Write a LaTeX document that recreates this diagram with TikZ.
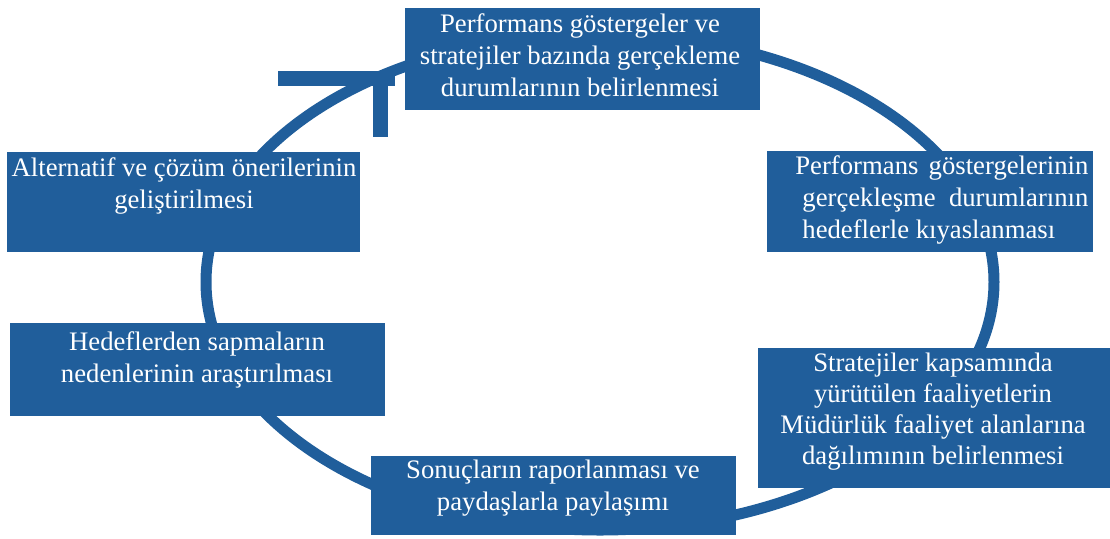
\documentclass[tikz,border=0pt]{standalone}
\usepackage{fontspec}
\setmainfont{Liberation Serif}
\usepackage{tikz}
\usetikzlibrary{positioning}
\definecolor{cycleblue}{RGB}{32,94,155}
\tikzset{%
  font=\fontsize{13.35}{16}\selectfont,
  stage box/.style={rectangle,draw=none,fill=cycleblue,inner sep=0pt,anchor=north west},
  stage text/.style={text=white,inner sep=0pt,align=center,anchor=base},
  cycle line/.style={draw=cycleblue,line width=5.5pt},
  arrow bar/.style={draw=cycleblue,line width=7.5pt}
}

\begin{document}
\begin{tikzpicture}[x=0.5pt,y=-0.5pt]
	\useasboundingbox (0,0) rectangle (1110,538);
	% the cycle
	\draw[cycle line] (600,282) ellipse [x radius=197pt,y radius=124pt];
	
	\begin{scope}[every node/.style={stage box}]
	\node[minimum width=177.5pt,minimum height=51pt] (belirle) at (405,8) {};
	\node[minimum width=163pt,minimum height=50.5pt] (kiyas) at (767,151) {};
	\node[minimum width=176pt,minimum height=70pt] (dagilim) at (758,348) {};
	\node[minimum width=182.5pt,minimum height=39.5pt] (rapor) at (371,456) {};
	\node[minimum width=187.5pt,minimum height=46.5pt] (sapma) at (10,323) {};
	\node[minimum width=176.5pt,minimum height=50pt] (cozum) at (7,152) {};
	\end{scope}
	
	% texts, placed by the baseline of their last line
	\begin{scope}[every node/.style={stage text}]
	\node (belirle-t) at (580,96) {Performans göstergeler ve\\stratejiler bazında gerçekleme\\durumlarının belirlenmesi};
	\node[anchor=base west,align=left] (kiyas-t) at (802,238) {\hspace*{-3.5pt}\makebox[146.5pt][s]{Performans göstergelerinin}\\\makebox[143pt][s]{gerçekleşme durumlarının}\\hedeflerle kıyaslanması};
	\node[font=\fontsize{13.35}{15.4}\selectfont] (dagilim-t) at (933,464) {Stratejiler kapsamında\\yürütülen faaliyetlerin\\Müdürlük faaliyet alanlarına\\dağılımının belirlenmesi};
	\node (rapor-t) at (553,510) {Sonuçların raporlanması ve\\paydaşlarla paylaşımı};
	\node (sapma-t) at (197,382) {Hedeflerden sapmaların\\nedenlerinin araştırılması};
	\node (cozum-t) at (184,208) {Alternatif ve çözüm önerilerinin\\geliştirilmesi};
	\end{scope}
	
	% broken arrow head at the end of the cycle
	\coordinate (tip) at (380,78);
	\draw[arrow bar] (278,78) -- (395,78);
	\draw[arrow bar] (tip) -- (380,137);
\end{tikzpicture}
\end{document}
